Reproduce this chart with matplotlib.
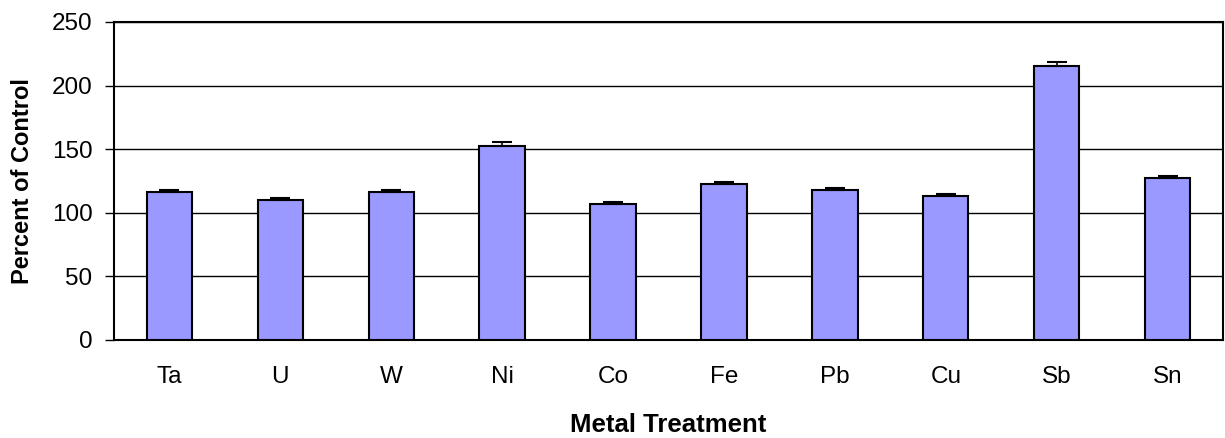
import matplotlib
matplotlib.use("Agg")
import matplotlib.pyplot as plt
import numpy as np

categories = ["Ta", "U", "W", "Ni", "Co", "Fe", "Pb", "Cu", "Sb", "Sn"]
values = [116.1, 110.0, 116.1, 152.5, 106.9, 122.6, 117.9, 113.2, 215.4, 127.4]
errors = [1.8, 1.8, 1.8, 3.0, 1.8, 1.6, 1.6, 1.8, 3.0, 1.8]
yticks = [0, 50, 100, 150, 200, 250]

plt.rcParams['font.family'] = ['Liberation Sans', 'DejaVu Sans']

fig = plt.figure(figsize=(12.25, 4.38), dpi=100)
ax = fig.add_axes([114/1225, 1 - 340/438, (1223 - 114)/1225, (340 - 22)/438])

x = np.arange(len(categories))
ax.bar(x, values, width=0.41, color='#9999FF', edgecolor='black', linewidth=1.5, zorder=3)
ax.errorbar(x, values, yerr=[np.zeros(len(errors)), errors], fmt='none',
            ecolor='black', elinewidth=1.2, capsize=7.5, capthick=1.5, zorder=4)

ax.set_xlim(-0.5, len(categories) - 0.5)
ax.set_ylim(0, 250)
ax.set_yticks(yticks)
ax.set_xticks(x)
ax.set_xticklabels(categories, fontsize=17.5)
ax.tick_params(axis='y', labelsize=17.5, direction='out', length=6.5, width=1, pad=9)
ax.tick_params(axis='x', length=0, pad=18.5)
ax.yaxis.grid(True, color='black', linewidth=1, zorder=0)
ax.set_axisbelow(True)
for s in ax.spines.values():
    s.set_linewidth(1.5)
    s.set_color('black')

ax.set_ylabel("Percent of Control", fontsize=17, fontweight='bold', labelpad=13)
ax.set_xlabel("Metal Treatment", fontsize=18.5, fontweight='bold', labelpad=18.5)

fig.savefig("out.png", dpi=100)
